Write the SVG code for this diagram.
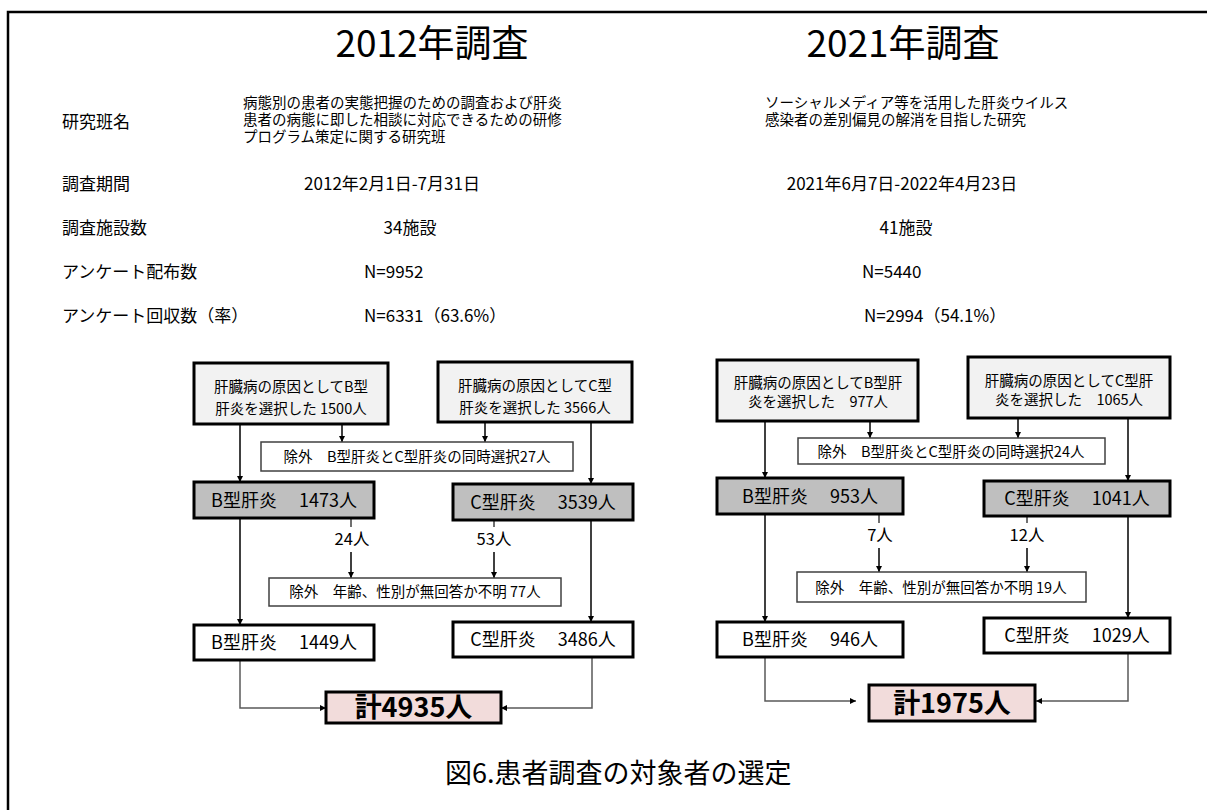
<svg xmlns="http://www.w3.org/2000/svg" width="1207" height="810" viewBox="0 0 1207 810">
<defs>
<style>
text{font-family:"Noto Sans CJK JP","Noto Sans",sans-serif;fill:#000}
.title{font-size:37px;text-anchor:middle}
.lbl{font-size:17px}
.res{font-size:14.5px}
.val{font-size:17px}
.bt{font-size:14.5px;text-anchor:middle}
.mt{font-size:18px;text-anchor:middle}
.nt{font-size:16.5px;text-anchor:middle}
.tot{font-size:27px;font-weight:bold;text-anchor:middle}
.cap{font-size:27px}
.light{fill:#f2f2f2;stroke:#000;stroke-width:3}
.gray{fill:#bfbfbf;stroke:#000;stroke-width:3}
.white{fill:#fff;stroke:#000;stroke-width:3}
.excl{fill:#fff;stroke:#404040;stroke-width:1.5}
.total{fill:#f2dcdb;stroke:#000;stroke-width:3}
.ar{fill:none;stroke:#000;stroke-width:1.5;marker-end:url(#ah)}
.ln{fill:none;stroke:#404040;stroke-width:1.5}
.gr{fill:none;stroke:#595959;stroke-width:1.5;marker-end:url(#ah)}
</style>
<marker id="ah" viewBox="0 0 10 10" refX="10" refY="5" markerWidth="6" markerHeight="6" orient="auto" markerUnits="userSpaceOnUse">
<path d="M0,0 L10,5 L0,10 z" fill="#000"/>
</marker>
</defs>
<rect x="0" y="0" width="1207" height="810" fill="#fff"/>
<rect x="8" y="12" width="1220" height="820" fill="none" stroke="#000" stroke-width="2.5"/>

<g id="header">
<text class="title" x="432" y="57">2012年調査</text>
<text class="title" x="903" y="57">2021年調査</text>
<text class="lbl" x="62" y="128">研究班名</text>
<text class="res" x="243" y="108">病態別の患者の実態把握のための調査および肝炎</text>
<text class="res" x="243" y="125">患者の病態に即した相談に対応できるための研修</text>
<text class="res" x="243" y="142">プログラム策定に関する研究班</text>
<text class="res" x="765" y="108">ソーシャルメディア等を活用した肝炎ウイルス</text>
<text class="res" x="765" y="125">感染者の差別偏見の解消を目指した研究</text>
<text class="lbl" x="62" y="190">調査期間</text>
<text class="val" x="392" y="190" text-anchor="middle">2012年2月1日-7月31日</text>
<text class="val" x="902" y="190" text-anchor="middle">2021年6月7日-2022年4月23日</text>
<text class="lbl" x="62" y="234">調査施設数</text>
<text class="val" x="410" y="234" text-anchor="middle">34施設</text>
<text class="val" x="906" y="234" text-anchor="middle">41施設</text>
<text class="lbl" x="62" y="278">アンケート配布数</text>
<text class="val" x="364" y="278">N=9952</text>
<text class="val" x="862" y="278">N=5440</text>
<text class="lbl" x="62" y="322">アンケート回収数（率）</text>
<text class="val" x="364" y="322">N=6331（63.6%）</text>
<text class="val" x="864" y="322">N=2994（54.1%）</text>
</g>

<g id="connectors">
<line class="ar" x1="342" y1="424" x2="342" y2="442"/>
<line class="ar" x1="485" y1="422" x2="485" y2="442"/>
<line class="ar" x1="240" y1="424" x2="240" y2="482"/>
<line class="ar" x1="591" y1="422" x2="591" y2="484"/>
<line class="ln" x1="351" y1="518" x2="351" y2="527"/>
<line class="ar" x1="351" y1="552" x2="351" y2="578"/>
<line class="ln" x1="494" y1="520" x2="494" y2="527"/>
<line class="ar" x1="494" y1="552" x2="494" y2="578"/>
<line class="ar" x1="240" y1="518" x2="240" y2="625"/>
<line class="ar" x1="591" y1="520" x2="591" y2="622"/>
<polyline class="gr" points="240,660 240,708 326,708"/>
<polyline class="gr" points="592,657 592,708 501,708"/>

<line class="ar" x1="870" y1="421" x2="870" y2="438"/>
<line class="ar" x1="1018" y1="418" x2="1018" y2="438"/>
<line class="ar" x1="765" y1="421" x2="765" y2="478"/>
<line class="ar" x1="1128" y1="418" x2="1128" y2="481"/>
<line class="ln" x1="879" y1="514" x2="879" y2="523"/>
<line class="ar" x1="879" y1="548" x2="879" y2="572"/>
<line class="ln" x1="1027" y1="516" x2="1027" y2="523"/>
<line class="ar" x1="1027" y1="548" x2="1027" y2="572"/>
<line class="ar" x1="765" y1="514" x2="765" y2="622"/>
<line class="ar" x1="1128" y1="516" x2="1128" y2="618"/>
<polyline class="gr" points="765,657 765,701 856,701"/>
<polyline class="gr" points="1128,653 1128,701 1036,701"/>
</g>

<g id="n2012_b1"><rect class="light" x="194" y="363" width="194" height="61"/><text class="bt" x="291" y="392">肝臓病の原因としてB型</text><text class="bt" x="291" y="414">肝炎を選択した 1500人</text></g>
<g id="n2012_c1"><rect class="light" x="438" y="362" width="194" height="60"/><text class="bt" x="535" y="391">肝臓病の原因としてC型</text><text class="bt" x="535" y="413">肝炎を選択した 3566人</text></g>
<g id="n2012_ex1"><rect class="excl" x="261" y="442" width="312" height="29"/><text class="bt" x="417" y="462">除外　B型肝炎とC型肝炎の同時選択27人</text></g>
<g id="n2012_b2"><rect class="gray" x="194" y="482" width="180" height="36"/><text class="mt" x="284" y="507">B型肝炎　 1473人</text></g>
<g id="n2012_c2"><rect class="gray" x="453" y="484" width="180" height="36"/><text class="mt" x="543" y="509">C型肝炎　 3539人</text></g>
<g id="n2012_l1"><text class="nt" x="352" y="545">24人</text></g>
<g id="n2012_l2"><text class="nt" x="494" y="545">53人</text></g>
<g id="n2012_ex2"><rect class="excl" x="269" y="578" width="292" height="28"/><text class="bt" x="415" y="597">除外　年齢、性別が無回答か不明 77人</text></g>
<g id="n2012_b3"><rect class="white" x="194" y="625" width="180" height="35"/><text class="mt" x="284" y="649">B型肝炎　 1449人</text></g>
<g id="n2012_c3"><rect class="white" x="453" y="622" width="180" height="35"/><text class="mt" x="543" y="646">C型肝炎　 3486人</text></g>
<g id="n2012_total"><rect class="total" x="326" y="692" width="175" height="31"/><text class="tot" x="413.5" y="717">計4935人</text></g>

<g id="n2021_b1"><rect class="light" x="717" y="360" width="201" height="61"/><text class="bt" x="818" y="388">肝臓病の原因としてB型肝</text><text class="bt" x="818" y="407">炎を選択した　977人</text></g>
<g id="n2021_c1"><rect class="light" x="968" y="357" width="202" height="61"/><text class="bt" x="1069" y="386">肝臓病の原因としてC型肝</text><text class="bt" x="1069" y="405">炎を選択した　1065人</text></g>
<g id="n2021_ex1"><rect class="excl" x="798" y="438" width="307" height="26"/><text class="bt" x="951" y="457">除外　B型肝炎とC型肝炎の同時選択24人</text></g>
<g id="n2021_b2"><rect class="gray" x="717" y="478" width="186" height="36"/><text class="mt" x="810" y="503">B型肝炎　 953人</text></g>
<g id="n2021_c2"><rect class="gray" x="984" y="481" width="186" height="35"/><text class="mt" x="1077" y="505">C型肝炎　 1041人</text></g>
<g id="n2021_l1"><text class="nt" x="880" y="541">7人</text></g>
<g id="n2021_l2"><text class="nt" x="1027" y="541">12人</text></g>
<g id="n2021_ex2"><rect class="excl" x="797" y="572" width="289" height="30"/><text class="bt" x="941" y="593">除外　年齢、性別が無回答か不明 19人</text></g>
<g id="n2021_b3"><rect class="white" x="717" y="622" width="186" height="35"/><text class="mt" x="810" y="646">B型肝炎　 946人</text></g>
<g id="n2021_c3"><rect class="white" x="984" y="618" width="186" height="35"/><text class="mt" x="1077" y="642">C型肝炎　 1029人</text></g>
<g id="n2021_total"><rect class="total" x="869" y="685" width="166" height="36"/><text class="tot" x="952" y="713">計1975人</text></g>

<g id="caption"><text class="cap" x="445" y="783">図6.患者調査の対象者の選定</text></g>
</svg>
